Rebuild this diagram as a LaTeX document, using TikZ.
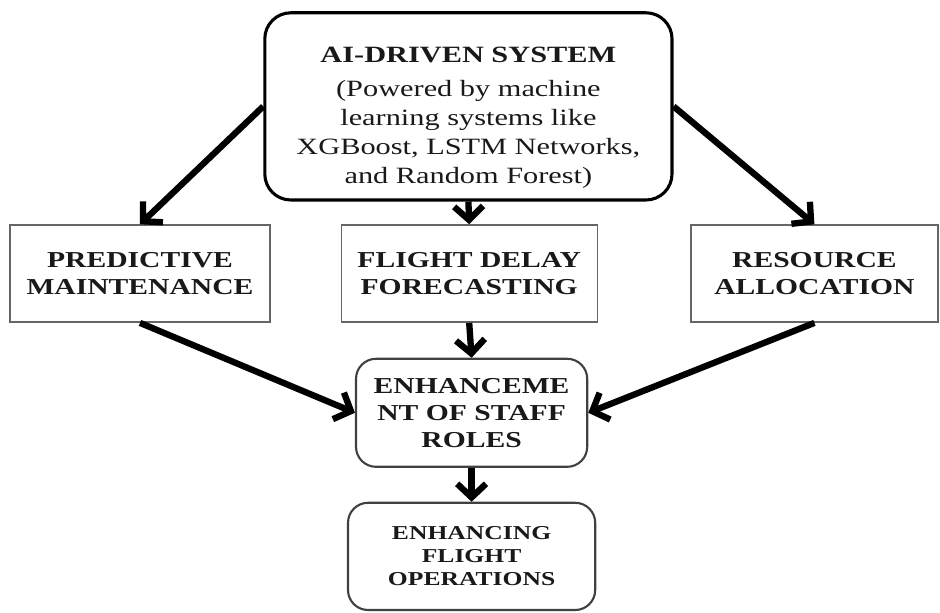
\documentclass[tikz,border=0pt]{standalone}
\usepackage{fontspec}
\setmainfont{Liberation Serif}[FakeStretch=1.3]
\usetikzlibrary{arrows.meta}

\begin{document}
\begin{tikzpicture}[
    box/.style={draw, align=center, inner sep=0pt, text=black!90},
    roundbox/.style={box, rounded corners=0.5cm, line width=1.5pt, draw=black!75},
    flatbox/.style={box, line width=1pt, draw=black!60},
    arr/.style={line width=4.5pt, -{Straight Barb[length=0.34cm,width=0.72cm]}}
]
    \useasboundingbox (0,0) rectangle (23.5,15.3);

    % AI system box on top
    \node[roundbox, line width=2.2pt, draw=black, rounded corners=0.65cm,
          minimum width=10.18cm, minimum height=4.68cm,
          font=\fontsize{16.6}{20.6}\selectfont] (ai) at (11.71,12.64)
        {\rule{0pt}{27pt}\textbf{AI-DRIVEN SYSTEM}\\[4pt]
         (Powered by machine\\ learning systems like\\
         XGBoost, LSTM Networks,\\ and Random Forest)};

    % Middle row
    \node[flatbox, minimum width=6.5cm, minimum height=2.43cm,
          font=\fontsize{16.2}{19.2}\selectfont\bfseries] (pm) at (3.5,8.46)
        {PREDICTIVE\\MAINTENANCE};
    \node[flatbox, minimum width=6.4cm, minimum height=2.43cm,
          font=\fontsize{16.2}{19.2}\selectfont\bfseries] (fd) at (11.73,8.46)
        {FLIGHT DELAY\\FORECASTING};
    \node[flatbox, minimum width=6.18cm, minimum height=2.43cm,
          font=\fontsize{16.2}{19.2}\selectfont\bfseries] (ra) at (20.36,8.46)
        {RESOURCE\\ALLOCATION};

    % Staff roles
    \node[roundbox, minimum width=5.78cm, minimum height=2.7cm,
          font=\fontsize{16.2}{19.2}\selectfont\bfseries] (sr) at (11.79,4.98)
        {ENHANCEME\\NT OF STAFF\\ROLES};

    % Flight operations
    \node[roundbox, minimum width=6.18cm, minimum height=2.68cm,
          font=\fontsize{14}{16.4}\selectfont\bfseries] (fo) at (11.79,1.39)
        {ENHANCING\\FLIGHT\\OPERATIONS};

    % Arrows
    \draw[arr] (ai.west) -- (pm.north);
    \draw[arr] (ai.south) -- (fd.north);
    \draw[arr] (ai.east) -- (ra.north);
    \draw[arr] (pm.south) -- (sr.west);
    \draw[arr] (fd.south) -- (sr.north);
    \draw[arr] (ra.south) -- (sr.east);
    \draw[arr] (sr.south) -- (fo.north);
\end{tikzpicture}
\end{document}
